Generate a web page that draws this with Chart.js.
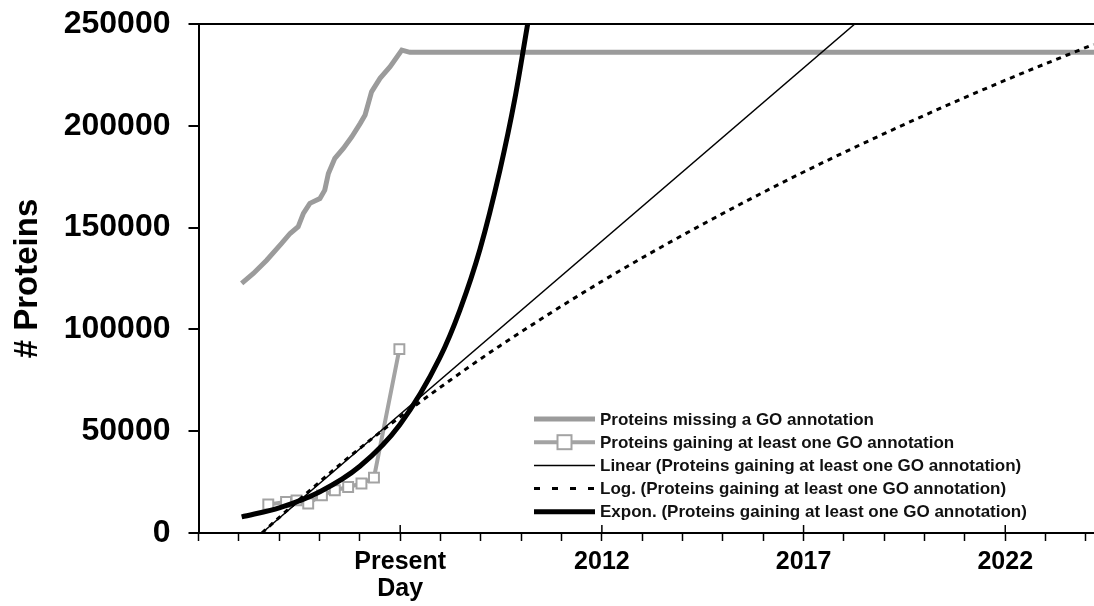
<!DOCTYPE html>
<html>
<head>
<meta charset="utf-8">
<script src="https://cdn.jsdelivr.net/npm/chart.js@4.4.0/dist/chart.umd.min.js"></script>
<style>
  html, body { margin: 0; padding: 0; background: #fff; }
  #wrap { width: 1094px; height: 606px; }
</style>
</head>
<body>
<div id="wrap"><canvas id="c" width="1094" height="606"></canvas></div>
<script>
// Proteins still missing a GO annotation (observed, then held flat)
const missingYears  = [2003.07, 2003.36, 2003.69, 2004.06, 2004.27, 2004.47, 2004.60, 2004.76, 2005.01, 2005.13, 2005.22, 2005.38, 2005.59, 2005.80, 2006.01, 2006.13, 2006.21, 2006.29, 2006.50, 2006.75, 2007.04, 2007.24, 2024.2];
const missingCounts = [122600, 127500, 134000, 142200, 147100, 150400, 157000, 161900, 164300, 168400, 176600, 184000, 188900, 194600, 201200, 205300, 211000, 216700, 223300, 229000, 237200, 236100, 236100];

// Proteins gaining at least one GO annotation
const gainingYears  = [2003.73, 2004.17, 2004.43, 2004.72, 2005.06, 2005.38, 2005.71, 2006.04, 2006.35, 2006.98];
const gainingCounts = [14000, 15200, 16000, 14500, 18500, 21000, 22600, 24300, 27200, 90300];

// Trend lines for the gaining series
const linearYears  = [2003.57, 2018.27];
const linearCounts = [0, 250000];

const logYears  = [2003.57, 2004.52, 2005.75, 2006.99, 2008.23, 2009.47, 2011.95, 2014.43, 2016.91, 2019.39, 2021.86, 2024.19];
const logCounts = [0, 16800, 37600, 56900, 74900, 91900, 123000, 150900, 176400, 199700, 221200, 240000];

const expYears  = [2003.07, 2004.02, 2005.01, 2006.00, 2006.99, 2007.98, 2008.48, 2008.98, 2009.47, 2009.84, 2010.16];
const expCounts = [7900, 12500, 20300, 32800, 53200, 86000, 109500, 139500, 178000, 213000, 250000];

// Axes
const tickYears  = [2002, 2003, 2004, 2005, 2006, 2007, 2008, 2009, 2010, 2011, 2012, 2013, 2014, 2015, 2016, 2017, 2018, 2019, 2020, 2021, 2022, 2023, 2024];
const labelYears = [2007, 2012, 2017, 2022];
const labelTexts = [['Present', 'Day'], '2012', '2017', '2022'];
const countTicks = [0, 50000, 100000, 150000, 200000, 250000];

const seriesNames = [
  'Proteins missing a GO annotation',
  'Proteins gaining at least one GO annotation',
  'Linear (Proteins gaining at least one GO annotation)',
  'Log. (Proteins gaining at least one GO annotation)',
  'Expon. (Proteins gaining at least one GO annotation)'
];

function points(xs, ys) { return xs.map((x, i) => ({ x: x, y: ys[i] })); }

const FONT = "'Liberation Sans', Arial, Helvetica, sans-serif";

// Legend drawn inside the plot, lower right
const insideLegend = {
  id: 'insideLegend',
  afterDraw(chart) {
    const ctx = chart.ctx;
    const x0 = 534, x1 = 595, tx = 600, y0 = 419, dy = 23.2;
    chart.data.datasets.forEach((ds, i) => {
      const y = y0 + i * dy;
      ctx.save();
      ctx.strokeStyle = ds.borderColor;
      ctx.lineWidth = ds.borderWidth;
      ctx.setLineDash(ds.legendDash || []);
      ctx.beginPath();
      ctx.moveTo(x0, y);
      ctx.lineTo(x1, y);
      ctx.stroke();
      ctx.setLineDash([]);
      if (ds.pointRadius > 0) {
        const r = ds.pointRadius;
        const cx = (x0 + x1) / 2;
        ctx.fillStyle = ds.pointBackgroundColor;
        ctx.strokeStyle = ds.pointBorderColor;
        ctx.lineWidth = ds.pointBorderWidth;
        ctx.fillRect(cx - r, y - r, 2 * r, 2 * r);
        ctx.strokeRect(cx - r, y - r, 2 * r, 2 * r);
      }
      ctx.fillStyle = '#111';
      ctx.font = 'bold 17px ' + FONT;
      ctx.textAlign = 'left';
      ctx.textBaseline = 'middle';
      ctx.fillText(ds.label, tx, y + 1);
      ctx.restore();
    });
  }
};

// Labelled years get a tick that also crosses above the axis
const crossTicks = {
  id: 'crossTicks',
  afterDraw(chart) {
    const ctx = chart.ctx;
    const xs = chart.scales.x;
    const bottom = chart.chartArea.bottom;
    ctx.save();
    ctx.strokeStyle = '#000';
    ctx.lineWidth = 1.5;
    labelYears.forEach(v => {
      const px = xs.getPixelForValue(v);
      ctx.beginPath();
      ctx.moveTo(px, bottom - 8);
      ctx.lineTo(px, bottom);
      ctx.stroke();
    });
    ctx.restore();
  }
};

new Chart(document.getElementById('c'), {
  type: 'line',
  data: {
    datasets: [
      {
        label: seriesNames[0],
        data: points(missingYears, missingCounts),
        borderColor: '#9b9b9b',
        borderWidth: 5,
        pointRadius: 0,
        tension: 0,
        order: 4
      },
      {
        label: seriesNames[1],
        data: points(gainingYears, gainingCounts),
        borderColor: '#a3a3a3',
        borderWidth: 4,
        pointStyle: 'rect',
        pointRadius: 7,
        pointBackgroundColor: '#ffffff',
        pointBorderColor: '#a3a3a3',
        pointBorderWidth: 2,
        tension: 0,
        order: 3
      },
      {
        label: seriesNames[2],
        data: points(linearYears, linearCounts),
        borderColor: '#000000',
        borderWidth: 1.5,
        pointRadius: 0,
        order: 1
      },
      {
        label: seriesNames[3],
        data: points(logYears, logCounts),
        borderColor: '#000000',
        borderWidth: 3,
        borderDash: [5, 5],
        legendDash: [6, 12],
        pointRadius: 0,
        cubicInterpolationMode: 'monotone',
        order: 2
      },
      {
        label: seriesNames[4],
        data: points(expYears, expCounts),
        borderColor: '#000000',
        borderWidth: 5,
        pointRadius: 0,
        cubicInterpolationMode: 'monotone',
        order: 0
      }
    ]
  },
  options: {
    responsive: false,
    devicePixelRatio: 1,
    animation: false,
    layout: { autoPadding: false, padding: { top: 24, right: 0, bottom: 0, left: 0 } },
    plugins: { legend: { display: false }, tooltip: { enabled: false } },
    scales: {
      x: {
        type: 'linear',
        min: 2002,
        max: 2024.2,
        afterBuildTicks(scale) { scale.ticks = tickYears.map(v => ({ value: v })); },
        afterFit(scale) {
          scale.height = 73;
          scale.paddingLeft = 0;
          scale.paddingRight = 0;
        },
        border: { color: '#000', width: 2 },
        grid: { drawOnChartArea: false, tickLength: 8, tickColor: '#000', tickWidth: 1.5 },
        ticks: {
          autoSkip: false,
          maxRotation: 0,
          padding: 8,
          color: '#000',
          font: { family: FONT, size: 25, weight: 'bold', lineHeight: 1.07 },
          callback(value) {
            const k = labelYears.indexOf(Math.round(value));
            return (k >= 0 && Math.abs(value - labelYears[k]) < 1e-6) ? labelTexts[k] : '';
          }
        }
      },
      y: {
        min: 0,
        max: 250000,
        afterBuildTicks(scale) { scale.ticks = countTicks.map(v => ({ value: v })); },
        afterFit(scale) {
          scale.width = 198.5;
          scale.paddingTop = 0;
          scale.paddingBottom = 0;
        },
        border: { color: '#000', width: 2 },
        grid: {
          drawOnChartArea: true,
          color: c => (c.tick && c.tick.value === 250000) ? '#000' : 'rgba(0,0,0,0)',
          lineWidth: 2,
          tickLength: 10,
          tickColor: '#000',
          tickWidth: 2
        },
        ticks: {
          padding: 18,
          color: '#000',
          font: { family: FONT, size: 32, weight: 'bold' },
          callback: v => String(v)
        },
        title: {
          display: true,
          text: '# Proteins',
          color: '#000',
          font: { family: FONT, size: 33, weight: 'bold', lineHeight: 1.2 },
          padding: { top: 8, bottom: 0 }
        }
      }
    }
  },
  plugins: [insideLegend, crossTicks]
});
</script>
</body>
</html>
